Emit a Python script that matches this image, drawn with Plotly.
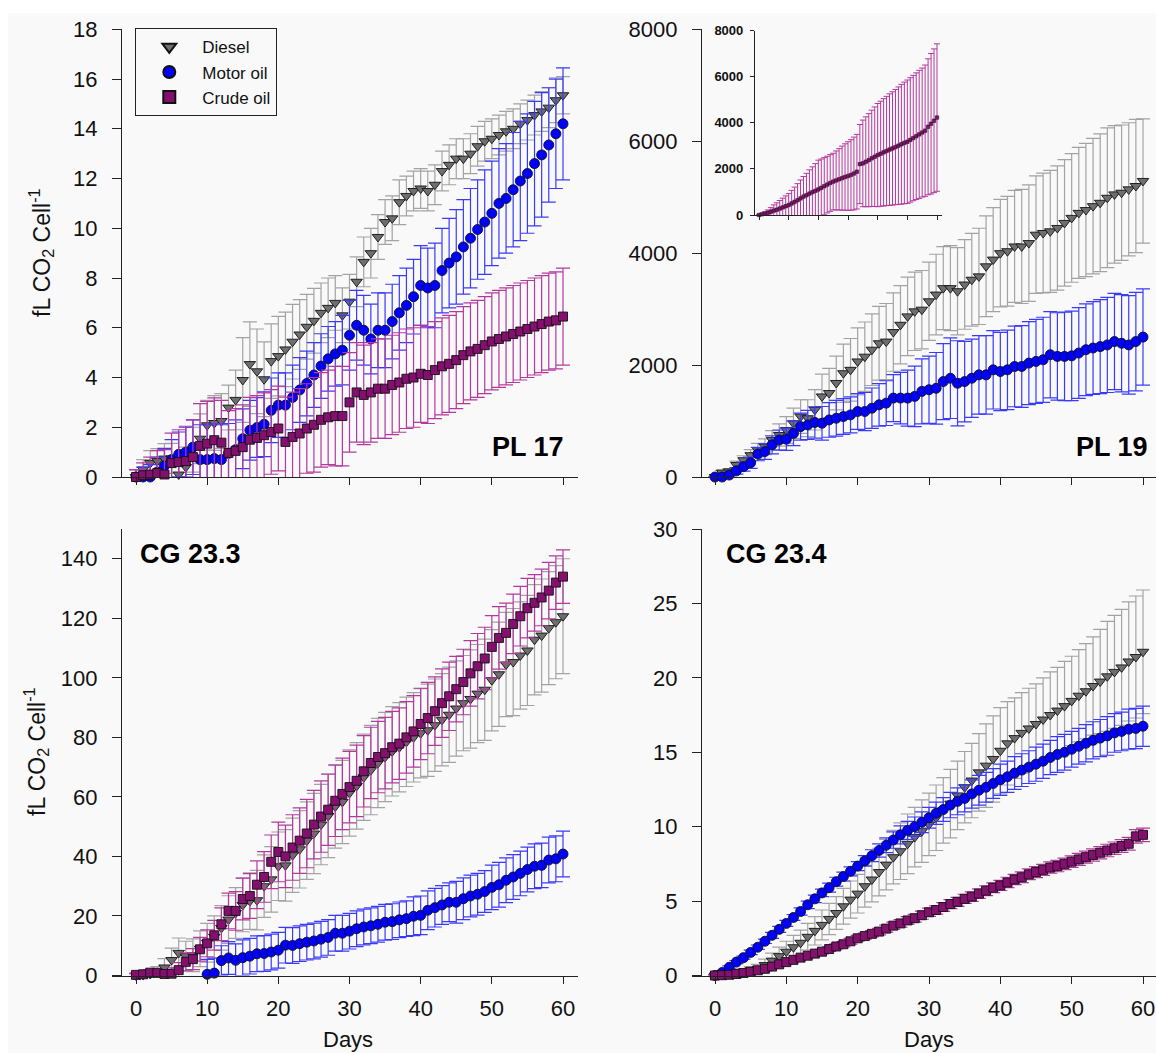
import plotly.graph_objects as go

W, H = 1156, 1053
days = list(range(61))

# ---------------- PL 17 ----------------
pl17_diesel = [0, 0.3, 0.56, 0.64, 0.74, 0.75, 0.1, 0.4, 1.1, 1.54,
               2.08, 2.17, 2.25, 2.79, 3.1, 3.9, 4.54, 4.25, 3.93, 4.66,
               4.86, 5.13, 5.44, 5.73, 6.04, 6.28, 6.6, 6.8, 7.0, 6.5,
               7.05, 7.85, 8.65, 9.0, 9.65, 10.25, 10.4, 11.05, 11.3, 11.5,
               11.6, 11.5, 11.75, 12.3, 12.55, 12.8, 12.8, 13.0, 13.3, 13.5,
               13.6, 13.75, 13.9, 14.0, 14.2, 14.35, 14.55, 14.7, 14.85, 15.15, 15.35]
pl17_diesel_err = [0.3, 0.4, 0.5, 0.5, 0.6, 0.6, 0.7, 0.8, 0.9, 1.0,
                   1.0, 1.1, 1.1, 0.9, 1.2, 1.7, 1.7, 1.7, 1.5, 1.5,
                   1.6, 1.5, 1.5, 1.4, 1.3, 1.3, 1.2, 1.2, 1.1, 1.1,
                   1.1, 1.0, 1.0, 1.0, 0.9, 0.9, 0.9, 0.9, 0.8, 0.8,
                   0.8, 0.8, 0.8, 0.8, 0.8, 0.8, 0.8, 0.8, 0.8, 0.8,
                   0.8, 0.8, 0.8, 0.8, 0.8, 0.8, 0.8, 0.8, 0.8, 0.9, 0.75]
pl17_motor = [0, 0, 0, 0.2, 0.45, 0.7, 0.91, 1.0, 1.2, 0.7,
              0.7, 0.74, 0.7, 0.95, 1.1, 1.54, 1.88, 1.99, 2.12, 2.68,
              2.89, 2.89, 3.2, 3.5, 3.76, 4.1, 4.46, 4.75, 4.95, 5.1,
              5.7, 6.1, 5.9, 5.55, 5.9, 5.9, 6.25, 6.6, 6.9, 7.25,
              7.7, 7.6, 7.7, 8.3, 8.6, 8.85, 9.25, 9.6, 9.95, 10.25,
              10.6, 11.0, 11.2, 11.55, 11.9, 12.2, 12.6, 12.95, 13.35, 13.8, 14.2]
pl17_motor_err = [0.3, 0.4, 0.5, 0.6, 0.7, 0.8, 0.9, 1.0, 1.1, 1.4,
                  1.4, 1.4, 1.4, 1.2, 1.2, 1.2, 1.2, 1.2, 1.3, 1.3,
                  1.3, 1.3, 1.3, 1.3, 1.3, 1.3, 1.3, 1.3, 1.3, 1.4,
                  1.4, 1.4, 1.4, 1.4, 1.5, 1.5, 1.5, 1.5, 1.5, 1.5,
                  1.6, 1.6, 1.7, 1.7, 1.8, 1.9, 1.9, 2.0, 2.0, 2.1,
                  2.1, 2.2, 2.2, 2.3, 2.4, 2.4, 2.5, 2.5, 2.3, 2.2, 2.25]
pl17_crude = [0, 0.07, 0.1, 0.16, 0.1, 0.56, 0.6, 0.64, 0.8, 1.25,
              1.34, 1.48, 1.38, 0.97, 1.05, 1.2, 1.5, 1.57, 1.68, 1.81,
              1.95, 1.41, 1.61, 1.75, 1.95, 2.1, 2.3, 2.4, 2.45, 2.45,
              3.0, 3.4, 3.3, 3.4, 3.55, 3.55, 3.7, 3.8, 3.95, 4.0,
              4.15, 4.1, 4.3, 4.45, 4.55, 4.7, 4.9, 5.05, 5.15, 5.3,
              5.45, 5.55, 5.65, 5.75, 5.85, 5.95, 6.05, 6.15, 6.25, 6.3, 6.45]
pl17_crude_err = [0.3, 0.5, 0.7, 0.9, 1.0, 1.2, 1.3, 1.4, 1.5, 1.7,
                  1.7, 1.7, 1.7, 1.7, 1.7, 1.7, 1.7, 1.7, 1.7, 1.7,
                  1.7, 1.8, 1.8, 1.8, 1.8, 1.9, 1.9, 1.9, 2.0, 2.0,
                  2.0, 2.0, 2.0, 2.0, 2.0, 2.0, 2.0, 2.0, 2.0, 2.0,
                  1.95, 1.95, 1.95, 1.95, 1.95, 1.95, 1.95, 1.95, 1.95, 1.95,
                  1.95, 1.95, 1.95, 1.95, 1.95, 1.95, 1.95, 1.95, 1.95, 1.95, 1.95]

# ---------------- PL 19 ----------------
pl19_diesel = [0, 80, 100, 215, 300, 390, 480, 540, 660, 750,
               840, 960, 1080, 1050, 1200, 1440, 1500, 1680, 1855, 1915,
               2065, 2150, 2275, 2390, 2420, 2590, 2720, 2870, 2960, 2990,
               3140, 3260, 3375, 3375, 3320, 3440, 3525, 3585, 3765, 3885,
               4000, 4035, 4120, 4120, 4180, 4330, 4360, 4390, 4450, 4540,
               4630, 4720, 4770, 4840, 4900, 4990, 5050, 5080, 5140, 5200, 5290]
pl19_diesel_err = [0, 40, 50, 70, 80, 100, 120, 140, 170, 200,
                   240, 270, 300, 330, 360, 400, 440, 480, 520, 560,
                   600, 620, 640, 660, 680, 700, 700, 700, 700, 700,
                   700, 720, 740, 760, 780, 800, 830, 860, 900, 930,
                   960, 980, 1000, 1020, 1040, 1050, 1070, 1090, 1110, 1130,
                   1150, 1170, 1190, 1210, 1230, 1250, 1230, 1210, 1190, 1190, 1110]
pl19_motor = [0, 0, 35, 110, 185, 255, 410, 455, 575, 660,
              675, 780, 900, 930, 975, 960, 1020, 1050, 1080, 1110,
              1170, 1170, 1230, 1290, 1320, 1410, 1410, 1410, 1440, 1530,
              1560, 1585, 1705, 1765, 1675, 1705, 1765, 1825, 1825, 1915,
              1885, 1915, 1975, 1975, 2035, 2065, 2095, 2185, 2155, 2155,
              2165, 2215, 2275, 2305, 2330, 2360, 2420, 2390, 2360, 2420, 2500]
pl19_motor_err = [0, 20, 40, 60, 80, 100, 120, 140, 160, 180,
                  200, 220, 240, 260, 280, 300, 310, 320, 320, 320,
                  320, 340, 360, 380, 400, 420, 460, 500, 540, 580,
                  600, 640, 680, 720, 760, 720, 700, 700, 700, 700,
                  700, 710, 720, 730, 740, 750, 760, 770, 780, 790,
                  800, 810, 820, 830, 840, 850, 860, 870, 880, 880, 860]
pl19_crude = [0, 30, 60, 100, 140, 190, 230, 280, 330, 380,
              430, 500, 570, 640, 720, 800, 860, 930, 990, 1050,
              1110, 1180, 1250, 1320, 1390, 1450, 1500, 1550, 1600, 1650,
              1690, 1740, 1800, 1880, 2210, 2240, 2310, 2380, 2460, 2530,
              2600, 2660, 2720, 2780, 2840, 2890, 2950, 3010, 3070, 3130,
              3180, 3260, 3340, 3420, 3500, 3580, 3660, 3830, 3960, 4090, 4230]
pl19_crude_err = [0, 40, 80, 120, 180, 250, 300, 350, 400, 450,
                  500, 570, 640, 720, 800, 870, 950, 1030, 1100, 1180,
                  1270, 1250, 1240, 1230, 1230, 1230, 1280, 1330, 1390, 1440,
                  1490, 1530, 1580, 1620, 1720, 1880, 1950, 2020, 2090, 2160,
                  2240, 2280, 2330, 2370, 2420, 2460, 2500, 2550, 2600, 2640,
                  2680, 2700, 2720, 2750, 2780, 2800, 2850, 2950, 3050, 3120, 3200]

# ---------------- CG 23.3 ----------------
cg233_diesel = [0, 0.2, 0.5, 1.0, 2.7, 5.2, 7.6, 6.5, 6.8, 9,
                11, 13, 16, 18.8, 21, 23.7, 25, 25.3, 30, 32.3,
                36.7, 37, 40.4, 42.4, 45.3, 47.7, 50.7, 53.6, 56.8, 58.3,
                61.3, 63.7, 66.6, 69, 71.4, 73.4, 75.3, 76.7, 78.5, 80,
                81.4, 82.4, 84.1, 85.9, 87.6, 89.7, 91.5, 92.9, 94.7, 96,
                99.2, 101.2, 104.5, 105.3, 107.5, 109.2, 112.8, 114.2, 116.7, 118.7, 120.7]
cg233_diesel_err = [0.5, 1, 1.5, 2, 3, 4, 5, 5, 5.5, 6,
                    6.5, 7, 7.5, 8, 8.5, 9, 9.5, 10, 10.5, 11,
                    11.5, 12, 12.5, 13, 13, 13.5, 13.5, 14, 14, 14,
                    14.5, 14.5, 14.5, 15, 15, 15, 15, 15, 15, 15,
                    15, 15.5, 15.5, 15.5, 16, 16, 16, 16.5, 16.5, 17,
                    17, 17.5, 17.5, 18, 18, 18.5, 18.5, 19, 19, 19, 19.3]
cg233_motor = [None] * 10 + [
               0.4, 0.8, 5, 5.9, 5.1, 6.0, 6.5, 7.3, 7.4, 7.9,
               8.5, 10.2, 10.1, 10.7, 11.2, 11.6, 12.2, 12.8, 14.2, 14.2,
               14.9, 15.7, 16.3, 16.7, 17.2, 17.9, 18.1, 18.7, 19.1, 19.9,
               20.2, 21.9, 22.8, 23.7, 24.6, 24.6, 25.8, 26.7, 27.3, 28.2,
               29.6, 30.5, 32, 33.1, 34.3, 35.6, 36.7, 37, 38.8, 39.2, 40.8]
cg233_motor_err = [None] * 10 + [
                   5, 5, 5, 5.5, 5.5, 6, 6, 6, 6, 6,
                   6, 6, 6, 6, 6, 6, 6, 6, 6, 6,
                   6, 6, 6, 6, 6, 6, 6, 6, 6, 6.5,
                   6.5, 6.5, 6.5, 6.5, 6.5, 7, 7, 7, 7, 7,
                   7.5, 7.5, 7.5, 7.5, 7.5, 7.5, 7.5, 7.5, 7.7, 7.7, 7.7]
cg233_crude = [0.2, 0.4, 0.95, 0.9, 0.5, 0.6, 1.8, 4.6, 5.5, 8.8,
               10.8, 13.5, 17.2, 21.7, 21.7, 25.7, 26.7, 30.5, 33.1, 38.2,
               41.5, 40, 43, 45.3, 47.7, 50.7, 53.4, 55.7, 58.7, 61,
               63.3, 65.4, 68.6, 71.4, 73.4, 74.7, 76.7, 77.9, 80, 82,
               84.5, 86.5, 88.8, 91.5, 93.8, 96.2, 98.6, 101.5, 103.9, 106.5,
               110.4, 113.4, 115.1, 118.1, 120.7, 123.4, 125.2, 127, 129.3, 132, 134]
cg233_crude_err = [0.5, 0.8, 1, 1.2, 1.5, 2, 2.5, 3, 3.5, 4,
                   4.5, 5, 5.5, 6, 6.5, 7, 7.5, 8, 8.5, 9,
                   10, 10.5, 11, 11, 11.5, 11.5, 12, 12, 12, 12,
                   12, 12, 12, 12, 12, 12, 12, 12, 12, 12,
                   12, 12, 11.5, 11.5, 11.5, 11, 11, 11, 11, 10.5,
                   10.5, 10.5, 10, 10, 10, 10, 9.5, 9.5, 9.5, 9, 9]

# ---------------- CG 23.4 ----------------
cg234_diesel = [0, 0.05, 0.1, 0.15, 0.25, 0.35, 0.45, 0.7, 1.0, 1.3,
                1.6, 1.9, 2.2, 2.6, 3.0, 3.4, 3.8, 4.2, 4.65, 5.1,
                5.5, 6.0, 6.45, 6.95, 7.45, 7.95, 8.35, 8.85, 9.3, 9.7,
                10.15, 10.6, 11.1, 11.55, 12.1, 12.65, 13.1, 13.65, 14.1, 14.55,
                15.1, 15.6, 15.95, 16.3, 16.6, 16.9, 17.2, 17.5, 17.8, 18.1,
                18.45, 18.8, 19.1, 19.45, 19.75, 20.1, 20.4, 20.7, 21.1, 21.4, 21.75]
cg234_diesel_err = [0.05, 0.1, 0.1, 0.15, 0.2, 0.25, 0.3, 0.4, 0.5, 0.6,
                    0.7, 0.8, 0.85, 0.9, 0.95, 1.0, 1.05, 1.1, 1.2, 1.25,
                    1.3, 1.4, 1.5, 1.6, 1.7, 1.8, 1.9, 2.0, 2.0, 2.1,
                    2.1, 2.2, 2.2, 2.3, 2.3, 2.4, 2.5, 2.6, 2.8, 2.9,
                    2.9, 2.8, 2.7, 2.7, 2.7, 2.7, 2.8, 2.9, 2.9, 3.0,
                    3.0, 3.1, 3.2, 3.3, 3.5, 3.7, 3.8, 3.9, 4.0, 4.1, 4.15]
cg234_motor = [0, 0.2, 0.55, 0.9, 1.2, 1.55, 1.9, 2.3, 2.7, 3.1,
               3.5, 3.9, 4.3, 4.75, 5.15, 5.55, 5.9, 6.3, 6.65, 7.0,
               7.35, 7.7, 8.05, 8.4, 8.75, 9.1, 9.45, 9.75, 10.0, 10.3,
               10.6, 10.9, 11.15, 11.45, 11.7, 11.9, 12.2, 12.45, 12.65, 12.9,
               13.15, 13.35, 13.6, 13.8, 14.0, 14.2, 14.4, 14.65, 14.85, 15.0,
               15.2, 15.4, 15.6, 15.8, 15.95, 16.1, 16.3, 16.4, 16.55, 16.6, 16.75]
cg234_motor_err = [0.05, 0.05, 0.1, 0.1, 0.1, 0.15, 0.15, 0.15, 0.2, 0.2,
                   0.2, 0.2, 0.25, 0.25, 0.25, 0.25, 0.3, 0.3, 0.3, 0.3,
                   0.3, 0.35, 0.4, 0.45, 0.5, 0.55, 0.6, 0.6, 0.65, 0.7,
                   0.7, 0.75, 0.8, 0.85, 0.9, 0.9, 0.95, 1.0, 1.0, 1.0,
                   1.05, 1.05, 1.1, 1.1, 1.1, 1.15, 1.15, 1.15, 1.2, 1.2,
                   1.2, 1.2, 1.25, 1.25, 1.25, 1.3, 1.3, 1.3, 1.35, 1.35, 1.35]
cg234_crude = [0, 0.02, 0.05, 0.1, 0.17, 0.25, 0.35, 0.45, 0.6, 0.75,
               0.9, 1.05, 1.2, 1.33, 1.47, 1.6, 1.78, 1.95, 2.1, 2.3,
               2.5, 2.65, 2.8, 2.95, 3.15, 3.35, 3.5, 3.7, 3.85, 4.05,
               4.25, 4.4, 4.6, 4.8, 4.95, 5.15, 5.3, 5.5, 5.7, 5.9,
               6.05, 6.25, 6.45, 6.6, 6.8, 6.95, 7.1, 7.25, 7.35, 7.5,
               7.65, 7.8, 7.95, 8.1, 8.25, 8.4, 8.55, 8.7, 8.85, 9.35, 9.45]
cg234_crude_err = [0, 0.02, 0.03, 0.04, 0.05, 0.06, 0.07, 0.08, 0.09, 0.1,
                   0.1, 0.11, 0.12, 0.13, 0.14, 0.15, 0.16, 0.17, 0.18, 0.19,
                   0.2, 0.2, 0.21, 0.22, 0.23, 0.24, 0.25, 0.25, 0.26, 0.27,
                   0.28, 0.28, 0.29, 0.3, 0.3, 0.31, 0.32, 0.32, 0.33, 0.33,
                   0.34, 0.35, 0.35, 0.36, 0.36, 0.37, 0.37, 0.38, 0.38, 0.39,
                   0.39, 0.4, 0.4, 0.41, 0.41, 0.42, 0.42, 0.43, 0.43, 0.45, 0.45]

series_names = ["Diesel", "Motor oil", "Crude oil"]
x_ticks = [0, 10, 20, 30, 40, 50, 60]

# ---------------- styles ----------------
FONT = "Liberation Sans, Arial, sans-serif"
styles = {
    "Diesel": dict(symbol="triangle-down", fill="#6e6e6e", err="#a3a3a3"),
    "Motor oil": dict(symbol="circle", fill="#0000ff", err="#3a3aff"),
    "Crude oil": dict(symbol="square", fill="#840f6e", err="#b5389f"),
}
sizes = {"Diesel": 10, "Motor oil": 10, "Crude oil": 9}


# helpers: window pixel -> paper fraction
def px_x(p):
    return p / W


def px_y(p):
    return 1 - p / H


fig = go.Figure()


def add_series(name, y, err, xa, ya, show_legend=False, size=None, cap=7, thick=1.2, lw=0.9):
    st = styles[name]
    fig.add_trace(go.Scatter(
        x=days, y=y, mode="markers", name=name, showlegend=show_legend,
        xaxis=xa, yaxis=ya, cliponaxis=False,
        marker=dict(symbol=st["symbol"], size=size or sizes[name], color=st["fill"],
                    line=dict(color="#111111", width=lw)),
        error_y=dict(type="data", array=err, visible=True, color=st["err"],
                     thickness=thick, width=cap),
    ))


# panel 1: PL 17
add_series("Diesel", pl17_diesel, pl17_diesel_err, "x", "y", True)
add_series("Motor oil", pl17_motor, pl17_motor_err, "x", "y", True)
add_series("Crude oil", pl17_crude, pl17_crude_err, "x", "y", True)
# panel 2: PL 19
add_series("Diesel", pl19_diesel, pl19_diesel_err, "x2", "y2")
add_series("Motor oil", pl19_motor, pl19_motor_err, "x2", "y2")
# inset: crude oil PL 19
add_series("Crude oil", pl19_crude, pl19_crude_err, "x5", "y5", size=3.5, cap=3, thick=1.0, lw=0.5)
# panel 3: CG 23.3
add_series("Diesel", cg233_diesel, cg233_diesel_err, "x3", "y3")
add_series("Motor oil", cg233_motor, cg233_motor_err, "x3", "y3")
add_series("Crude oil", cg233_crude, cg233_crude_err, "x3", "y3")
# panel 4: CG 23.4
add_series("Diesel", cg234_diesel, cg234_diesel_err, "x4", "y4")
add_series("Motor oil", cg234_motor, cg234_motor_err, "x4", "y4")
add_series("Crude oil", cg234_crude, cg234_crude_err, "x4", "y4")

AX = "#222222"
tickfont = dict(family=FONT, size=22, color="#111111")


def xaxis(dom_px, rng, anchor, labels):
    return dict(domain=[px_x(dom_px[0]), min(1, px_x(dom_px[1]))], range=rng, anchor=anchor,
                tickmode="array", tickvals=x_ticks, showticklabels=labels,
                ticks="outside", ticklen=7, tickwidth=1.2, tickcolor=AX,
                showline=True, linecolor=AX, linewidth=1.3, showgrid=False,
                zeroline=False, tickfont=tickfont, ticklabelstandoff=6)


def yaxis(dom_px, rng, dtick, pos_px):
    return dict(domain=[px_y(dom_px[0]), px_y(dom_px[1])], range=rng, anchor="free",
                position=px_x(pos_px), dtick=dtick, tick0=0,
                ticks="outside", ticklen=9, tickwidth=1.2, tickcolor=AX,
                showline=True, linecolor=AX, linewidth=1.3, showgrid=False,
                zeroline=False, tickfont=tickfont, ticklabelstandoff=10)


left_x = [112, 578]
left_rng = [-(136 - 112) / 7.117, 60 + (578 - 563) / 7.117]
right_x = [692, 1156]
right_rng = [-(715 - 692) / 7.133, 60 + (1156 - 1143) / 7.133]
top_y = [477, 29.3]
bot_y = [975.5, 529]

fig.update_layout(
    xaxis=xaxis(left_x, left_rng, "y", False),
    yaxis=yaxis(top_y, [0, 18], 2, 121),
    xaxis2=xaxis(right_x, right_rng, "y2", False),
    yaxis2=yaxis(top_y, [0, 8000], 2000, 701),
    xaxis3=xaxis(left_x, left_rng, "y3", True),
    yaxis3=yaxis(bot_y, [0, 150], 20, 121),
    xaxis4=xaxis(right_x, right_rng, "y4", True),
    yaxis4=yaxis(bot_y, [0, 30], 5, 701),
    xaxis5=dict(domain=[px_x(750), px_x(942)], range=[-(759 - 750) / 2.967, 60 + (942 - 937) / 2.967],
                anchor="y5", tickmode="array", tickvals=x_ticks, showticklabels=False,
                ticks="outside", ticklen=4, tickwidth=1.1, tickcolor=AX,
                showline=True, linecolor=AX, linewidth=1.2, showgrid=False, zeroline=False),
    yaxis5=dict(domain=[px_y(215), px_y(30.7)], range=[0, 8000], anchor="free", position=px_x(754),
                dtick=2000, ticks="outside", ticklen=4, tickwidth=1.1, tickcolor=AX,
                showline=True, linecolor=AX, linewidth=1.2, showgrid=False, zeroline=False,
                tickfont=dict(family=FONT, size=13, color="#111111", weight="bold"),
                ticklabelstandoff=4),
)

# background panel
fig.add_shape(type="rect", xref="paper", yref="paper", x0=px_x(8), x1=1, y0=0, y1=px_y(13),
              fillcolor="#f9f9f9", line=dict(width=0), layer="below")

ann_font = dict(family=FONT, size=22, color="#111111")
title_font = dict(family=FONT, size=23, color="#111111")
ytitle = "fL CO<sub>2</sub> Cell<sup>-1</sup>"
annotations = [
    dict(text=ytitle, x=px_x(41), y=px_y(253), textangle=-90, font=title_font),
    dict(text=ytitle, x=px_x(36), y=px_y(752), textangle=-90, font=title_font),
    dict(text="Days", x=px_x(348), y=px_y(1039), font=ann_font),
    dict(text="Days", x=px_x(929), y=px_y(1039), font=ann_font),
]
for a in annotations:
    fig.add_annotation(xref="paper", yref="paper", showarrow=False,
                       xanchor="center", yanchor="middle", **a)

bold = dict(family=FONT, size=27, color="#000000", weight="bold")
fig.add_annotation(text="PL 17", xref="paper", yref="paper", x=px_x(566), y=px_y(447),
                   xanchor="right", yanchor="middle", showarrow=False, font=bold)
fig.add_annotation(text="PL 19", xref="paper", yref="paper", x=px_x(1150), y=px_y(447),
                   xanchor="right", yanchor="middle", showarrow=False, font=bold)
fig.add_annotation(text="CG 23.3", xref="paper", yref="paper", x=px_x(138), y=px_y(554),
                   xanchor="left", yanchor="middle", showarrow=False, font=bold)
fig.add_annotation(text="CG 23.4", xref="paper", yref="paper", x=px_x(724), y=px_y(554),
                   xanchor="left", yanchor="middle", showarrow=False, font=bold)

fig.update_layout(
    width=W, height=H, margin=dict(l=0, r=0, t=0, b=0, pad=0, autoexpand=False),
    paper_bgcolor="white", plot_bgcolor="rgba(0,0,0,0)",
    font=dict(family=FONT, color="#111111"),
    showlegend=True,
    legend=dict(x=px_x(135), y=px_y(28), xanchor="left", yanchor="top",
                bgcolor="#f9f9f9", bordercolor="#222222", borderwidth=1.3,
                font=dict(family=FONT, size=17, color="#111111"),
                itemwidth=56, itemsizing="constant", tracegroupgap=0),
)

# remove the default 8 px body margin so the figure fills the window exactly
fig.write_html("out.html",
               config={"displayModeBar": False},
               post_script="document.body.style.margin='0';document.body.style.overflow='hidden';")
